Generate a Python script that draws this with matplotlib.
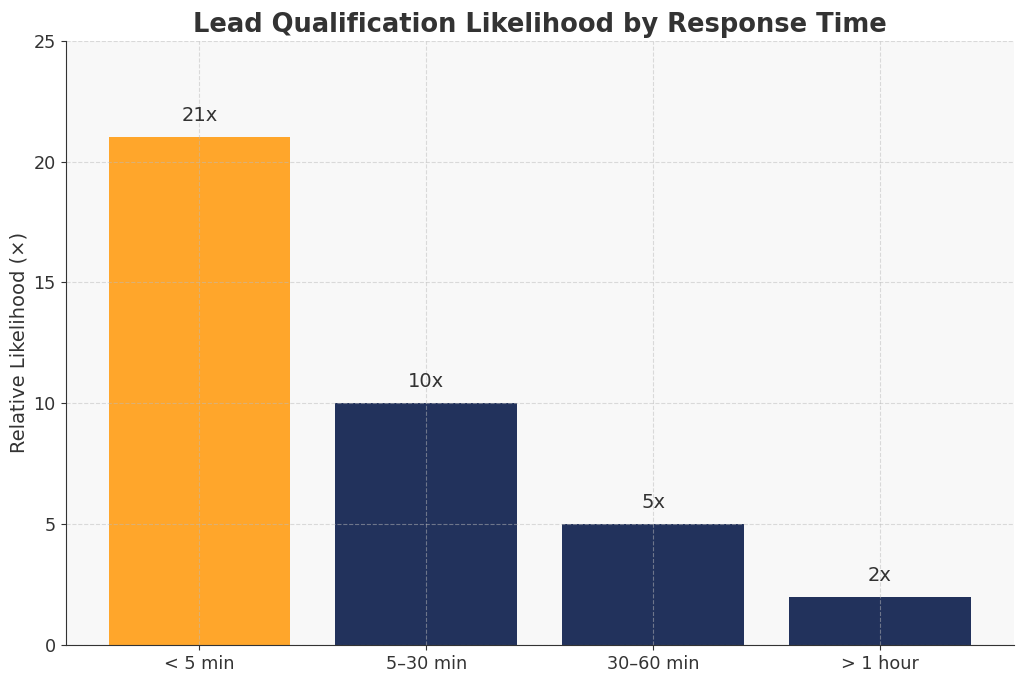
import matplotlib.pyplot as plt

plt.rcParams['font.family'] = ['DejaVu Sans']

categories = ['< 5 min', '5–30 min', '30–60 min', '> 1 hour']
values = [21, 10, 5, 2]
labels = ['21x', '10x', '5x', '2x']
colors = ['#FFA62B', '#22325C', '#22325C', '#22325C']

fig, ax = plt.subplots(figsize=(10.24, 6.79), dpi=100)
ax.set_facecolor('#F8F8F8')

bars = ax.bar(categories, values, width=0.8, color=colors)
for b, lab in zip(bars, labels):
    ax.text(b.get_x() + b.get_width() / 2, b.get_height() + 0.5, lab,
            ha='center', va='bottom', fontsize=14, color='#333333')

ax.set_ylim(0, 25)
ax.set_title('Lead Qualification Likelihood by Response Time',
             fontsize=18.5, fontweight='bold', color='#333333')
ax.set_ylabel('Relative Likelihood (×)', fontsize=14, color='#333333')
ax.tick_params(labelsize=12.7, colors='#333333')
ax.grid(True, linestyle='--', color='#bbbbbb', alpha=0.5, linewidth=0.8)
for s in ['top', 'right']:
    ax.spines[s].set_visible(False)
for s in ['left', 'bottom']:
    ax.spines[s].set_color('#333333')

plt.subplots_adjust(left=0.064, right=0.99, top=0.94, bottom=0.05)
plt.savefig('out.png')
